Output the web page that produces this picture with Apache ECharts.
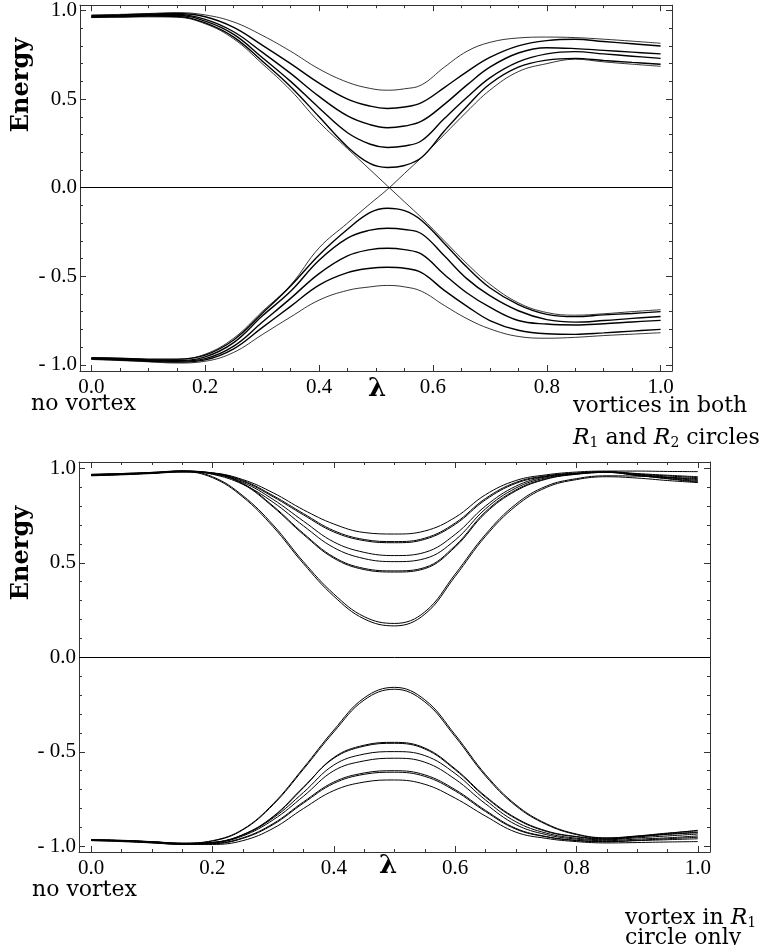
<!DOCTYPE html>
<html><head><meta charset="utf-8">
<script src="https://cdn.jsdelivr.net/npm/echarts@6/dist/echarts.min.js"></script>
<style>html,body{margin:0;padding:0;background:#fff}#c{width:763px;height:945px}</style>
</head><body><div id="c"></div>
<script>
// ---------- tick values / labels ----------
const X_MAJOR = [0, 0.2, 0.4, 0.6, 0.8, 1.0];
const X_MINOR = [0.05,0.1,0.15,0.25,0.3,0.35,0.45,0.5,0.55,0.65,0.7,0.75,0.85,0.9,0.95];
const Y_MAJOR = [-1.0, -0.5, 0.0, 0.5, 1.0];
const Y_MINOR = [-0.9,-0.8,-0.7,-0.6,-0.4,-0.3,-0.2,-0.1,0.1,0.2,0.3,0.4,0.6,0.7,0.8,0.9];
const Y_LABELS = ['- 1.0', '- 0.5', '0.0', '0.5', '1.0'];
const X_LABELS = ['0.0', '0.2', '0.4', '0.6', '0.8', '1.0'];

// ---------- top panel: vortices in both R1 and R2 circles ----------
const LT = [0,0.05,0.1,0.15,0.2,0.25,0.3,0.35,0.4,0.45,0.49,0.52,0.55,0.58,0.62,0.66,0.7,0.75,0.8,0.85,0.9,0.95,1.0];
const A1 = [0.975,0.978,0.983,0.988,0.975,0.935,0.86,0.77,0.67,0.595,0.56,0.55,0.558,0.58,0.68,0.77,0.82,0.845,0.85,0.847,0.838,0.827,0.815];
const A2 = [0.97,0.975,0.98,0.983,0.965,0.905,0.805,0.70,0.59,0.50,0.46,0.447,0.455,0.48,0.565,0.655,0.735,0.80,0.83,0.838,0.825,0.812,0.80];
const A3 = [0.968,0.972,0.976,0.978,0.95,0.88,0.765,0.645,0.515,0.405,0.355,0.338,0.348,0.375,0.47,0.58,0.68,0.76,0.79,0.785,0.775,0.765,0.755];
const A4 = [0.965,0.968,0.972,0.972,0.94,0.865,0.735,0.60,0.45,0.31,0.245,0.227,0.235,0.265,0.39,0.51,0.62,0.71,0.755,0.768,0.755,0.742,0.73];
const A5 = [0.962,0.965,0.968,0.966,0.93,0.85,0.715,0.57,0.40,0.23,0.135,0.114,0.125,0.17,0.32,0.46,0.585,0.68,0.72,0.73,0.718,0.707,0.697];
const X1 = [0.96,0.962,0.964,0.962,0.925,0.84,0.70,0.55,0.37,0.22,0.10,0.01,-0.08,-0.17,-0.30,-0.43,-0.545,-0.65,-0.705,-0.72,-0.712,-0.70,-0.689];
const X2 = [-0.965,-0.968,-0.972,-0.97,-0.94,-0.85,-0.70,-0.55,-0.34,-0.20,-0.09,-0.01,0.08,0.17,0.30,0.43,0.55,0.655,0.70,0.725,0.71,0.697,0.685];
const B1 = [-0.96,-0.963,-0.968,-0.968,-0.945,-0.86,-0.71,-0.555,-0.38,-0.235,-0.14,-0.116,-0.13,-0.185,-0.315,-0.45,-0.565,-0.66,-0.715,-0.728,-0.718,-0.71,-0.70];
const B2 = [-0.963,-0.966,-0.972,-0.975,-0.955,-0.875,-0.725,-0.585,-0.41,-0.285,-0.24,-0.229,-0.236,-0.26,-0.385,-0.515,-0.61,-0.695,-0.745,-0.759,-0.75,-0.738,-0.727];
const B3 = [-0.965,-0.97,-0.976,-0.98,-0.965,-0.895,-0.76,-0.625,-0.485,-0.385,-0.35,-0.342,-0.35,-0.375,-0.49,-0.595,-0.675,-0.75,-0.77,-0.775,-0.768,-0.758,-0.749];
const B4 = [-0.967,-0.973,-0.98,-0.985,-0.972,-0.91,-0.79,-0.67,-0.55,-0.48,-0.455,-0.449,-0.455,-0.48,-0.58,-0.67,-0.75,-0.805,-0.825,-0.828,-0.82,-0.81,-0.80];
const B5 = [-0.97,-0.976,-0.983,-0.99,-0.98,-0.93,-0.83,-0.73,-0.635,-0.58,-0.56,-0.552,-0.56,-0.585,-0.665,-0.74,-0.797,-0.84,-0.85,-0.845,-0.835,-0.827,-0.819];

// ---------- bottom panel: vortex in R1 circle only ----------
const LB = [0,0.05,0.1,0.15,0.2,0.25,0.3,0.35,0.4,0.45,0.5,0.55,0.6,0.65,0.7,0.75,0.8,0.85,0.9,0.95,1.0];
const C1  = [0.96,0.965,0.972,0.98,0.975,0.94,0.87,0.78,0.705,0.66,0.652,0.668,0.74,0.86,0.935,0.965,0.98,0.985,0.985,0.983,0.982];
const C2a = [0.963,0.968,0.975,0.982,0.975,0.935,0.855,0.76,0.67,0.623,0.612,0.63,0.71,0.84,0.925,0.96,0.975,0.982,0.972,0.963,0.955];
const C2b = [0.962,0.967,0.974,0.981,0.973,0.931,0.849,0.753,0.663,0.617,0.606,0.624,0.703,0.833,0.92,0.957,0.973,0.98,0.969,0.959,0.95];
const C3  = [0.966,0.97,0.976,0.984,0.97,0.925,0.835,0.72,0.61,0.555,0.538,0.555,0.65,0.80,0.905,0.955,0.972,0.98,0.968,0.953,0.94];
const C4  = [0.967,0.972,0.978,0.986,0.968,0.915,0.82,0.695,0.58,0.522,0.506,0.522,0.62,0.785,0.895,0.95,0.97,0.978,0.962,0.944,0.926];
const C5a = [0.965,0.97,0.975,0.985,0.975,0.92,0.80,0.655,0.53,0.47,0.457,0.475,0.59,0.77,0.885,0.945,0.97,0.98,0.965,0.95,0.935];
const C5b = [0.964,0.969,0.974,0.984,0.973,0.916,0.795,0.649,0.524,0.464,0.451,0.469,0.583,0.763,0.88,0.942,0.968,0.978,0.962,0.946,0.93];
const C6a = [0.968,0.972,0.978,0.985,0.955,0.855,0.70,0.505,0.335,0.215,0.179,0.24,0.44,0.65,0.81,0.905,0.945,0.96,0.958,0.952,0.945];
const C6b = [0.962,0.967,0.975,0.982,0.95,0.848,0.69,0.495,0.323,0.203,0.166,0.228,0.428,0.64,0.80,0.898,0.94,0.955,0.948,0.935,0.924];
const D1  = [-0.97,-0.975,-0.982,-0.99,-0.99,-0.97,-0.905,-0.80,-0.705,-0.66,-0.649,-0.672,-0.745,-0.84,-0.925,-0.958,-0.975,-0.982,-0.98,-0.977,-0.975];
const D2a = [-0.968,-0.972,-0.98,-0.988,-0.985,-0.955,-0.88,-0.765,-0.66,-0.612,-0.60,-0.622,-0.70,-0.81,-0.905,-0.948,-0.968,-0.975,-0.97,-0.965,-0.96];
const D2b = [-0.969,-0.973,-0.981,-0.989,-0.987,-0.958,-0.885,-0.771,-0.667,-0.619,-0.608,-0.63,-0.707,-0.816,-0.909,-0.95,-0.97,-0.976,-0.968,-0.96,-0.952];
const D3  = [-0.966,-0.97,-0.978,-0.986,-0.982,-0.945,-0.86,-0.735,-0.60,-0.548,-0.534,-0.555,-0.645,-0.775,-0.885,-0.938,-0.962,-0.97,-0.962,-0.955,-0.945];
const D4  = [-0.965,-0.97,-0.977,-0.985,-0.98,-0.94,-0.85,-0.715,-0.57,-0.512,-0.499,-0.52,-0.615,-0.755,-0.87,-0.93,-0.957,-0.965,-0.955,-0.945,-0.935];
const D5a = [-0.968,-0.97,-0.977,-0.985,-0.98,-0.94,-0.845,-0.69,-0.53,-0.465,-0.45,-0.48,-0.59,-0.735,-0.85,-0.918,-0.948,-0.96,-0.948,-0.935,-0.925];
const D5b = [-0.967,-0.97,-0.976,-0.985,-0.979,-0.938,-0.842,-0.686,-0.534,-0.47,-0.455,-0.485,-0.595,-0.74,-0.854,-0.921,-0.95,-0.962,-0.95,-0.937,-0.928];
const D6a = [-0.965,-0.968,-0.975,-0.983,-0.97,-0.91,-0.775,-0.585,-0.385,-0.215,-0.159,-0.225,-0.41,-0.62,-0.78,-0.88,-0.935,-0.955,-0.945,-0.93,-0.918];
const D6b = [-0.966,-0.969,-0.976,-0.984,-0.972,-0.913,-0.78,-0.592,-0.395,-0.226,-0.169,-0.236,-0.42,-0.628,-0.786,-0.884,-0.938,-0.957,-0.947,-0.932,-0.915];

// ---------- build ----------
const SERIF = '"Liberation Serif", "Times New Roman", serif';
const LABFONT = '"DejaVu Serif", serif';
const AXCOL = '#333';
const grids = [
  {left: 80, top: 4, width: 592, height: 367},
  {left: 79, top: 462, width: 631, height: 390}
];
const xAxes = [], yAxes = [];
function xLabelFmt(v){ const i = X_MAJOR.findIndex(t => Math.abs(t - v) < 1e-9); return i >= 0 ? X_LABELS[i] : ''; }
function yLabelFmt(v){ const i = Y_MAJOR.findIndex(t => Math.abs(t - v) < 1e-9); return i >= 0 ? Y_LABELS[i] : ''; }
grids.forEach((g, gi) => {
  [['bottom', true], ['top', false]].forEach(([pos, lab]) => {
    xAxes.push({gridIndex: gi, type: 'value', min: -0.02, max: 1.02, position: pos,
      axisLine: {show: true, onZero: false, lineStyle: {color: AXCOL, width: 1}},
      axisTick: {show: true, inside: true, length: 6, customValues: X_MAJOR, lineStyle: {color: AXCOL}},
      axisLabel: {show: lab, customValues: X_MAJOR, formatter: xLabelFmt, fontFamily: SERIF, fontSize: 21, color: '#000', margin: 6},
      splitLine: {show: false}});
    xAxes.push({gridIndex: gi, type: 'value', min: -0.02, max: 1.02, position: pos,
      axisLine: {show: false, onZero: false},
      axisTick: {show: true, inside: true, length: 3, customValues: X_MINOR, lineStyle: {color: AXCOL}},
      axisLabel: {show: false}, splitLine: {show: false}});
  });
  const yr = gi === 0 ? [-1.035, 1.03] : [-1.03, 1.033];
  [['left', true], ['right', false]].forEach(([pos, lab]) => {
    yAxes.push({gridIndex: gi, type: 'value', min: yr[0], max: yr[1], position: pos,
      axisLine: {show: true, onZero: false, lineStyle: {color: AXCOL, width: 1}},
      axisTick: {show: true, inside: true, length: 6, customValues: Y_MAJOR, lineStyle: {color: AXCOL}},
      axisLabel: {show: lab, customValues: Y_MAJOR, formatter: yLabelFmt, fontFamily: SERIF, fontSize: 21, color: '#000', margin: 3},
      splitLine: {show: false}});
    yAxes.push({gridIndex: gi, type: 'value', min: yr[0], max: yr[1], position: pos,
      axisLine: {show: false, onZero: false},
      axisTick: {show: true, inside: true, length: 3, customValues: Y_MINOR, lineStyle: {color: AXCOL}},
      axisLabel: {show: false}, splitLine: {show: false}});
  });
});

const series = [];
function add(gi, L, vals, w){
  series.push({type: 'line', xAxisIndex: gi * 4, yAxisIndex: gi * 4, data: L.map((l, i) => [l, vals[i]]),
    showSymbol: false, smooth: 0.4, lineStyle: {color: '#000', width: w}, silent: true, animation: false});
}
[[A1,0.8],[A2,1.4],[A3,1.4],[A4,1.4],[A5,1.4],[X1,0.8],[X2,0.8],[B1,1.4],[B2,1.4],[B3,1.4],[B4,1.4],[B5,0.8]]
  .forEach(([v,w]) => add(0, LT, v, w));
[C1,C2a,C2b,C3,C4,C5a,C5b,C6a,C6b,D1,D2a,D2b,D3,D4,D5a,D5b,D6a,D6b].forEach(v => add(1, LB, v, 1.0));
// zero lines
[0, 1].forEach(gi => {
  series.push({type: 'line', xAxisIndex: gi * 4, yAxisIndex: gi * 4, data: [], silent: true,
    markLine: {silent: true, symbol: 'none', animation: false, label: {show: false},
      lineStyle: {color: '#000', width: 1, type: 'solid'}, data: [{yAxis: 0}]}});
});

function txt(x, y, text, font, align, rot, rich){
  const s = {text, font, fill: '#000', textAlign: align || 'left', align: align || 'left',
    textVerticalAlign: 'middle', verticalAlign: 'middle'};
  if (rich) s.rich = rich;
  return {type: 'text', x, y, rotation: rot || 0, style: s, silent: true};
}
const rich = {
  i: {font: 'italic 22px "DejaVu Serif", serif', fill: '#000'},
  s: {font: '14px "DejaVu Serif", serif', fill: '#000', padding: [10, 0, 0, 0]},
  n: {font: '22px "DejaVu Serif", serif', fill: '#000'}
};
const graphic = [
  txt(22, 85, 'Energy', 'bold 24px "DejaVu Serif", serif', 'center', Math.PI / 2),
  txt(22, 553, 'Energy', 'bold 24px "DejaVu Serif", serif', 'center', Math.PI / 2),
  txt(377, 389, 'λ', 'bold 26px "DejaVu Serif", serif', 'center'),
  txt(388, 866, 'λ', 'bold 26px "DejaVu Serif", serif', 'center'),
  txt(31, 404, 'no vortex', '22px ' + LABFONT, 'left'),
  txt(32, 890, 'no vortex', '22px ' + LABFONT, 'left'),
  txt(573, 406, 'vortices in both', '22px ' + LABFONT, 'left'),
  txt(573, 438, '{i|R}{s|1}{n| and }{i|R}{s|2}{n| circles}', '22px ' + LABFONT, 'left', 0, rich),
  txt(625, 918, '{n|vortex in }{i|R}{s|1}', '22px ' + LABFONT, 'left', 0, rich),
  txt(625, 938, 'circle only', '22px ' + LABFONT, 'left')
];

const chart = echarts.init(document.getElementById('c'), null, {renderer: 'canvas'});
chart.setOption({animation: false, grid: grids, xAxis: xAxes, yAxis: yAxes, series, graphic});
</script></body></html>
